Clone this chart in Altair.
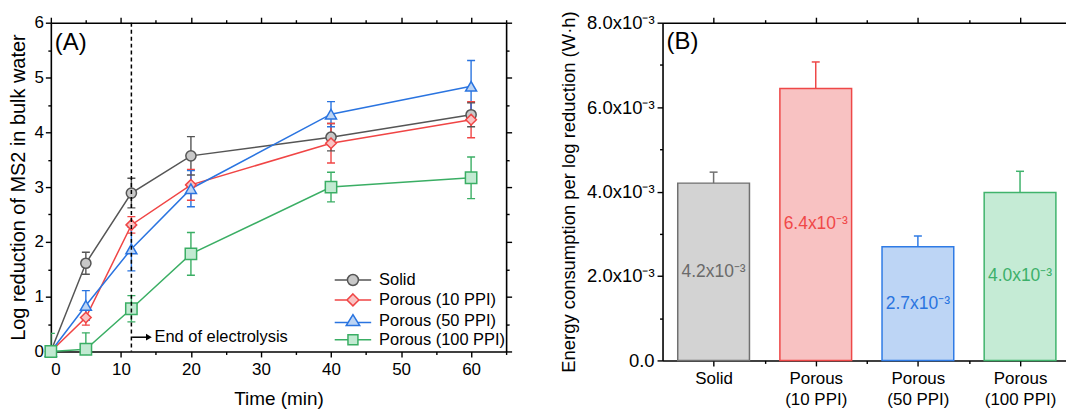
import altair as alt
import pandas as pd

FONT = "Liberation Sans"

# ---------------- Panel A data ----------------
times = [0, 5, 11.5, 20, 40, 60]
series_names = ["Solid", "Porous (10 PPI)", "Porous (50 PPI)", "Porous (100 PPI)"]
solid_vals = [0, 1.61, 2.89, 3.57, 3.91, 4.32]
solid_errs = [0, 0.20, 0.27, 0.35, 0.25, 0.22]
ppi10_vals = [0, 0.62, 2.31, 3.04, 3.80, 4.23]
ppi10_errs = [0, 0.14, 0.15, 0.28, 0.36, 0.33]
ppi50_vals = [0, 0.84, 1.87, 2.97, 4.33, 4.84]
ppi50_errs = [0, 0.27, 0.40, 0.33, 0.23, 0.47]
ppi100_vals = [0, 0.04, 0.78, 1.78, 3.00, 3.17]
ppi100_errs = [0.33, 0.30, 0.24, 0.39, 0.27, 0.38]
electrolysis_end = [11.5]
annotation_text = ["End of electrolysis"]

line_colors = ["#555555", "#f04545", "#2a74e0", "#3aae64"]
marker_fills = ["#c8c8c8", "#f9c3c3", "#bcd4f4", "#c2ead2"]
marker_shapes = ["circle", "diamond", "triangle-up", "square"]
marker_sizes = [105, 130, 175, 105]
legend_paths = [
    "M-3.66,0H-1.1M1.1,0H3.66M1.1,0A1.1,1.1 0 1 1 -1.1,0A1.1,1.1 0 1 1 1.1,0Z",
    "M-3.66,0H-1.2M1.2,0H3.66M0,-1.2L1.2,0L0,1.2L-1.2,0Z",
    "M-3.66,0.35H-0.98M0.98,0.35H3.66M0,-1.25L1.35,0.95L-1.35,0.95Z",
    "M-3.66,0H-1M1,0H3.66M-1,-1H1V1H-1Z",
]

# ---------------- Panel B data ----------------
bar_cats = ["Solid", "Porous (10 PPI)", "Porous (50 PPI)", "Porous (100 PPI)"]
bar_vals = [4.20e-3, 6.44e-3, 2.69e-3, 3.98e-3]
bar_errs = [0.26e-3, 0.63e-3, 0.26e-3, 0.50e-3]
bar_fills = ["#d3d3d3", "#f8c2c2", "#bdd5f5", "#c5ebd5"]
bar_strokes = ["#707070", "#ee4848", "#2f7be5", "#40b36c"]
bar_text_colors = ["#6a6a6a", "#f04848", "#2a74e0", "#3cb06a"]

# ---------------- tables ----------------
rows = []
for name, vals, errs in zip(series_names,
                            [solid_vals, ppi10_vals, ppi50_vals, ppi100_vals],
                            [solid_errs, ppi10_errs, ppi50_errs, ppi100_errs]):
    for t, v, e in zip(times, vals, errs):
        rows.append({"series": name, "time": t, "value": v, "err": e})
df_a = pd.DataFrame(rows)
df_a["lo"] = df_a["value"] - df_a["err"]
df_a["hi"] = df_a["value"] + df_a["err"]
df_err = df_a[df_a["err"] > 0]
df_caps = df_err.melt(id_vars=["series", "time"], value_vars=["lo", "hi"], value_name="cap")
df_vline = pd.DataFrame({"t": electrolysis_end})
df_leg = pd.DataFrame({"series": series_names})

df_b = pd.DataFrame({"idx": list(range(1, len(bar_cats) + 1)), "cat": bar_cats,
                     "val": bar_vals, "err": bar_errs})
df_b["hi"] = df_b["val"] + df_b["err"]
df_b["mid"] = df_b["val"] / 2
df_b["label"] = [f"{v * 1000:.1f}x10\u207b\u00b3" for v in bar_vals]

# ---------------- Panel A ----------------
xs = alt.Scale(domain=[0, 65], nice=False, zero=False, padding=0)
ys = alt.Scale(domain=[0, 6], nice=False, padding=0)
x_ticks = list(range(0, 66, 5))
y_ticks = [i * 0.5 for i in range(13)]
tick_x = {"condition": {"test": "datum.value % 10 != 0", "value": 3}, "value": 5.5}
tick_y = {"condition": {"test": "datum.value % 1 != 0", "value": 3}, "value": 5.5}

ax_bottom = alt.Axis(orient="bottom", values=x_ticks, tickSize=tick_x, offset=0,
                     labelExpr="datum.value % 10 == 0 ? format(datum.value, 'd') : ''",
                     labelOverlap=False, labelPadding=5, title="Time (min)",
                     titleFontSize=19, titlePadding=12)
ax_top = alt.Axis(orient="top", values=x_ticks, tickSize=tick_x, labels=False, title=None, offset=0)
ax_left = alt.Axis(orient="left", values=y_ticks, tickSize=tick_y, offset=0,
                   labelExpr="datum.value % 1 == 0 ? format(datum.value, 'd') : ''",
                   labelOverlap=False, labelPadding=2,
                   title="Log reduction of MS2 in bulk water", titleFontSize=20,
                   titlePadding=5)
ax_right = alt.Axis(orient="right", values=y_ticks, tickSize=tick_y, labels=False, title=None, offset=0)

stroke_a = alt.Scale(domain=series_names, range=line_colors)
fill_a = alt.Scale(domain=series_names, range=marker_fills)

err_rules = alt.Chart(df_err).mark_rule(strokeWidth=1.4, clip=True).encode(
    x=alt.X("time:Q", scale=xs, axis=None),
    y=alt.Y("lo:Q", scale=ys, axis=None), y2="hi:Q",
    stroke=alt.Stroke("series:N", scale=stroke_a, legend=None))
err_caps = alt.Chart(df_caps).mark_tick(orient="horizontal", size=8, thickness=1.4,
                                        clip=True, opacity=1).encode(
    x=alt.X("time:Q", scale=xs, axis=None),
    y=alt.Y("cap:Q", scale=ys, axis=None),
    color=alt.Color("series:N", scale=stroke_a, legend=None))
lines = alt.Chart(df_a).mark_line(strokeWidth=1.5).encode(
    x=alt.X("time:Q", scale=xs, axis=None),
    y=alt.Y("value:Q", scale=ys, axis=None),
    stroke=alt.Stroke("series:N", scale=stroke_a, legend=None))
points = alt.Chart(df_a).mark_point(filled=True, strokeWidth=1.5, opacity=1).encode(
    x=alt.X("time:Q", scale=xs, axis=ax_bottom),
    y=alt.Y("value:Q", scale=ys, axis=ax_left),
    shape=alt.Shape("series:N", scale=alt.Scale(domain=series_names, range=marker_shapes), legend=None),
    size=alt.Size("series:N", scale=alt.Scale(domain=series_names, range=marker_sizes), legend=None),
    fill=alt.Fill("series:N", scale=fill_a, legend=None),
    stroke=alt.Stroke("series:N", scale=stroke_a, legend=None))
vline = alt.Chart(df_vline).mark_rule(strokeDash=[4, 3], strokeWidth=1.5, color="black").encode(
    x=alt.X("t:Q", scale=xs, axis=None))

df_arrow = pd.DataFrame({"x": [11.6], "x2": [14.0], "y": [0.26]})
arrow_line = alt.Chart(df_arrow).mark_rule(strokeWidth=1.5, color="black").encode(
    x=alt.X("x:Q", scale=xs, axis=None), x2="x2:Q", y=alt.Y("y:Q", scale=ys, axis=None))
arrow_head = alt.Chart(df_arrow).mark_point(shape="triangle-right", filled=True, size=45,
                                            color="black", opacity=1).encode(
    x=alt.X("x2:Q", scale=xs, axis=None), y=alt.Y("y:Q", scale=ys, axis=None))
df_note = pd.DataFrame({"x": [14.8], "y": [0.26], "text": annotation_text})
arrow_text = alt.Chart(df_note).mark_text(align="left", baseline="middle", font=FONT,
                                          fontSize=16.5, color="black").encode(
    x=alt.X("x:Q", scale=xs, axis=None), y=alt.Y("y:Q", scale=ys, axis=None), text="text:N")
label_a = alt.Chart(pd.DataFrame({"t": ["(A)"]})).mark_text(
    align="left", baseline="top", font=FONT, fontSize=24, color="black").encode(
    x=alt.value(4), y=alt.value(8), text="t:N")

leg = alt.Legend(orient="none", legendX=295, legendY=250, title=None, labelFont=FONT,
                 labelFontSize=16.5, labelColor="black", labelOffset=18, rowPadding=2,
                 symbolSize=100, symbolStrokeWidth=1.5, padding=0)
legend_layer = alt.Chart(df_leg).mark_point(filled=True, size=100, strokeWidth=1.5,
                                            opacity=1, clip=True).encode(
    x=alt.value(-200), y=alt.value(-200),
    shape=alt.Shape("series:N", scale=alt.Scale(domain=series_names, range=legend_paths), legend=leg),
    fill=alt.Fill("series:N", scale=alt.Scale(domain=series_names, range=marker_fills), legend=leg),
    stroke=alt.Stroke("series:N", scale=alt.Scale(domain=series_names, range=line_colors), legend=leg))
mirror_a = alt.Chart(df_a).mark_point(opacity=0).encode(
    x=alt.X("time:Q", scale=xs, axis=ax_top),
    y=alt.Y("value:Q", scale=ys, axis=ax_right))

panel_a = alt.layer(err_rules, err_caps, lines, points, vline, arrow_line, arrow_head,
                    arrow_text, label_a, legend_layer, mirror_a).resolve_scale(
    shape="independent", fill="independent", stroke="independent", size="independent",
    color="independent").resolve_axis(x="independent", y="independent").properties(
    width=457, height=330)

# ---------------- Panel B ----------------
xb = alt.Scale(domain=[0.5, 4.45], nice=False, zero=False, padding=0)
yb = alt.Scale(domain=[0, 0.008], nice=False, padding=0)
xb_ticks = [1, 1.5, 2, 2.5, 3, 3.5, 4]
yb_ticks = [i / 1000 for i in range(9)]
parts = []
for i, c in enumerate(bar_cats, start=1):
    if " (" in c:
        a, b = c.split(" (", 1)
        lab = f"['{a}', '({b}']"
    else:
        lab = f"'{c}'"
    parts.append(f"datum.value == {i} ? {lab} : ")
xb_label_expr = "".join(parts) + "''"
tick_xb = {"condition": {"test": "datum.value % 1 != 0", "value": 3}, "value": 5.5}
tick_yb = {"condition": {"test": "round(datum.value * 1000) % 2 != 0", "value": 3}, "value": 5.5}

axb_bottom = alt.Axis(orient="bottom", values=xb_ticks, tickSize=tick_xb, labelExpr=xb_label_expr,
                      labelOverlap=False, labelPadding=5, labelLineHeight=21, title=None, offset=0)
axb_top = alt.Axis(orient="top", values=xb_ticks, tickSize=tick_xb, labels=False, title=None, offset=0)
axb_left = alt.Axis(orient="left", values=yb_ticks, tickSize=tick_yb, offset=0,
                    labelExpr="round(datum.value * 1000) % 2 == 0 ? (datum.value == 0 ? '0.0' : format(datum.value * 1000, '.1f') + 'x10\u207b\u00b3') : ''",
                    labelOverlap=False, labelPadding=3, labelFontSize=18.5,
                    title="Energy consumption per log reduction (W\u00b7h)", titleFontSize=18.5,
                    titlePadding=8)

fill_b = alt.Scale(domain=bar_cats, range=bar_fills)
stroke_b = alt.Scale(domain=bar_cats, range=bar_strokes)
text_b = alt.Scale(domain=bar_cats, range=bar_text_colors)

bars = alt.Chart(df_b).mark_bar(size=72, strokeWidth=1.5).encode(
    x=alt.X("idx:Q", scale=xb, axis=axb_bottom),
    y=alt.Y("val:Q", scale=yb, axis=axb_left),
    fill=alt.Fill("cat:N", scale=fill_b, legend=None),
    stroke=alt.Stroke("cat:N", scale=stroke_b, legend=None))
berr = alt.Chart(df_b).mark_rule(strokeWidth=1.5).encode(
    x=alt.X("idx:Q", scale=xb, axis=None),
    y=alt.Y("val:Q", scale=yb, axis=None), y2="hi:Q",
    stroke=alt.Stroke("cat:N", scale=stroke_b, legend=None))
bcap = alt.Chart(df_b).mark_tick(orient="horizontal", size=8, thickness=1.5, opacity=1).encode(
    x=alt.X("idx:Q", scale=xb, axis=None),
    y=alt.Y("hi:Q", scale=yb, axis=None),
    color=alt.Color("cat:N", scale=stroke_b, legend=None))
btext = alt.Chart(df_b).mark_text(font=FONT, fontSize=17.5, baseline="middle").encode(
    x=alt.X("idx:Q", scale=xb, axis=None),
    y=alt.Y("mid:Q", scale=yb, axis=None),
    text="label:N",
    fill=alt.Fill("cat:N", scale=text_b, legend=None))
label_b = alt.Chart(pd.DataFrame({"t": ["(B)"]})).mark_text(
    align="left", baseline="top", font=FONT, fontSize=24, color="black").encode(
    x=alt.value(4), y=alt.value(7), text="t:N")
mirror_b = alt.Chart(df_b).mark_point(opacity=0).encode(
    x=alt.X("idx:Q", scale=xb, axis=axb_top),
    y=alt.Y("val:Q", scale=yb, axis=None))

panel_b = alt.layer(bars, berr, bcap, btext, label_b, mirror_b).resolve_scale(
    fill="independent").resolve_axis(x="independent", y="independent").properties(
    width=405, height=339)

chart = alt.hconcat(panel_a, panel_b, spacing=46).properties(
    padding={"left": 1, "top": 2, "right": 0, "bottom": 0}
).configure_axis(
    domainColor="black", domainWidth=1.6, tickColor="black", tickWidth=1.4,
    labelColor="black", titleColor="black", labelFont=FONT, titleFont=FONT,
    labelFontSize=17, titleFontWeight="normal", grid=False
).configure_view(stroke=None)

chart.save("out.html", embed_options={"renderer": "svg", "actions": False})
